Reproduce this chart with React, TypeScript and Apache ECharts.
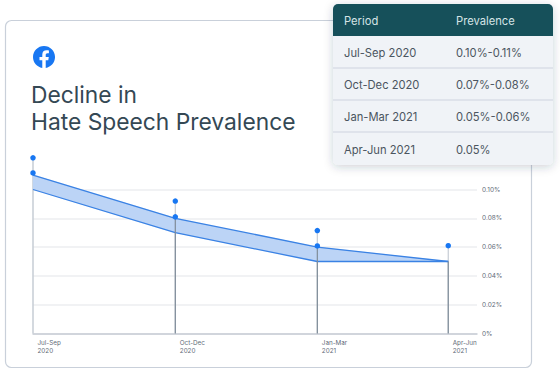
import React, { useEffect, useRef } from "react";
import * as echarts from "echarts";

const periods = ["Jul-Sep\n2020", "Oct-Dec\n2020", "Jan-Mar\n2021", "Apr-Jun\n2021"];
const xPos = [0, 1, 1.998, 2.918];
const upper = [0.11, 0.08, 0.06, 0.05];
const lower = [0.1, 0.07, 0.05, 0.05];
const pinsHigh = [0.122, 0.092, 0.0715, 0.061];
const pinsLow = [0.1115, 0.081, 0.0608];
const tableHeader = ["Period", "Prevalence"];
const tablePeriods = ["Jul-Sep 2020", "Oct-Dec 2020", "Jan-Mar 2021", "Apr-Jun 2021"];
const tableValues = ["0.10%-0.11%", "0.07%-0.08%", "0.05%-0.06%", "0.05%"];
const title = ["Decline in", "Hate Speech Prevalence"];

const FONT = "Inter";
const FB =
  "M24 12.073c0-6.627-5.373-12-12-12s-12 5.373-12 12c0 5.99 4.388 10.954 10.125 11.854v-8.385H7.078v-3.47h3.047V9.43c0-3.007 1.792-4.669 4.533-4.669 1.312 0 2.686.235 2.686.235v2.953H15.83c-1.491 0-1.956.925-1.956 1.874v2.25h3.328l-.532 3.47h-2.796v8.385C19.612 23.027 24 18.062 24 12.073z";
echarts.graphic.registerShape("fbLogo", echarts.graphic.extendPath(FB, {}));

export default function App() {
  const ref = useRef<HTMLDivElement>(null);
  useEffect(() => {
    const chart = echarts.init(ref.current!, undefined, { renderer: "svg" });
    const rowY = [36, 68, 100, 132, 165];
    const tableEls: any[] = [
      {
        type: "rect",
        shape: { x: 333, y: 4, width: 220, height: 161, r: 5 },
        style: { fill: "#f0f3f7", shadowBlur: 10, shadowColor: "rgba(40,50,70,0.22)", shadowOffsetY: 2 },
      },
      { type: "rect", shape: { x: 333, y: 4, width: 220, height: 32, r: [5, 5, 0, 0] }, style: { fill: "#16505a" } },
      { type: "text", style: { x: 344, y: 20.5, text: tableHeader[0], fill: "#d5e3e6", font: `11.2px ${FONT}`, verticalAlign: "middle" } },
      { type: "text", style: { x: 456, y: 20.5, text: tableHeader[1], fill: "#d5e3e6", font: `11.2px ${FONT}`, verticalAlign: "middle" } },
    ];
    tablePeriods.forEach((p, i) => {
      const cy = (rowY[i] + rowY[i + 1]) / 2 + 1;
      tableEls.push(
        { type: "text", style: { x: 344, y: cy, text: p, fill: "#4b5560", font: `11.2px ${FONT}`, verticalAlign: "middle" } },
        { type: "text", style: { x: 456, y: cy, text: tableValues[i], fill: "#4b5560", font: `11.2px ${FONT}`, verticalAlign: "middle" } }
      );
      if (i < 3)
        tableEls.push({
          type: "line",
          shape: { x1: 333, y1: rowY[i + 1], x2: 553, y2: rowY[i + 1] },
          style: { stroke: "#cdd4df", lineWidth: 1.2 },
        });
    });

    const stem = (color: string, width: number, tops: number[], xs: number[], z: number) => ({
      type: "custom" as const,
      coordinateSystem: "cartesian2d",
      silent: true,
      z,
      data: tops.map((t, i) => [xs[i], 0, t]),
      renderItem: (_: any, api: any) => {
        const a = api.coord([api.value(0), api.value(1)]);
        const b = api.coord([api.value(0), api.value(2)]);
        return { type: "line", shape: { x1: a[0], y1: a[1], x2: b[0], y2: b[1] }, style: { stroke: color, lineWidth: width } };
      },
    });

    const bandRows = xPos.slice(0, 3).map((x, i) => [x, upper[i], lower[i], xPos[i + 1], upper[i + 1], lower[i + 1]]);

    chart.setOption({
      animation: false,
      backgroundColor: "#ffffff",
      grid: { left: 33, right: 83, top: 189.5, bottom: 40.5 },
      xAxis: {
        type: "value",
        min: 0,
        max: 3.12,
        splitLine: { show: false },
        axisLine: { show: true, onZero: false, lineStyle: { color: "#c6ccd4", width: 1.5 } },
        axisTick: { show: false },
        axisLabel: {
          show: true,
          customValues: xPos,
          formatter: (v: number) => periods[xPos.indexOf(v)] ?? "",
          color: "#5f6b78",
          fontSize: 6.3,
          fontFamily: FONT,
          lineHeight: 8,
          align: "left",
          verticalAlign: "top",
          margin: 5,
          padding: [0, 0, 0, 4.5],
          hideOverlap: false,
        },
      },
      yAxis: {
        type: "value",
        position: "right",
        min: 0,
        max: 0.1,
        interval: 0.02,
        axisLine: { show: false },
        axisTick: { show: false },
        splitLine: { lineStyle: { color: "#eceef1", width: 1.5 } },
        axisLabel: {
          formatter: (v: number) => (v === 0 ? "0%" : v.toFixed(2) + "%"),
          color: "#5f6b78",
          fontSize: 6.5,
          fontFamily: FONT,
          margin: 5,
        },
      },
      series: [
        {
          type: "custom",
          coordinateSystem: "cartesian2d",
          silent: true,
          z: 2,
          data: bandRows,
          renderItem: (_: any, api: any) => ({
            type: "polygon",
            shape: {
              points: [
                api.coord([api.value(0), api.value(1)]),
                api.coord([api.value(3), api.value(4)]),
                api.coord([api.value(3), api.value(5)]),
                api.coord([api.value(0), api.value(2)]),
              ],
            },
            style: { fill: "#bcd4f6", stroke: "#bcd4f6", lineWidth: 0.3 },
          }),
        },
        {
          type: "line",
          symbol: "none",
          clip: false,
          z: 3,
          lineStyle: { color: "#3a82e4", width: 1.3 },
          data: lower.map((v, i) => [xPos[i], v]),
        },
        {
          type: "line",
          symbol: "none",
          clip: false,
          z: 3,
          lineStyle: { color: "#3a82e4", width: 1.3 },
          data: upper.map((v, i) => [xPos[i], v]),
        },
        stem("#c6ccd4", 1.5, [pinsHigh[0]], [xPos[0]], 1),
        stem("#c6ccd4", 1.2, pinsHigh.slice(1), xPos.slice(1), 1),
        stem("#7f8c99", 1.2, upper.slice(1), xPos.slice(1), 4),
        {
          type: "scatter",
          symbolSize: 5.5,
          z: 5,
          clip: false,
          itemStyle: { color: "#1877f2", opacity: 1 },
          data: [...pinsHigh.map((v, i) => [xPos[i], v]), ...pinsLow.map((v, i) => [xPos[i], v])],
        },
      ],
      graphic: {
        elements: [
          {
            type: "rect",
            z: -1,
            silent: true,
            shape: { x: 5.5, y: 20.5, width: 526, height: 347, r: 6 },
            style: { fill: "#ffffff", stroke: "#c9d0da", lineWidth: 1.2 },
          },
          { type: "fbLogo", x: 33, y: 46, scaleX: 22 / 24, scaleY: 22 / 24, style: { fill: "#1877f2" } },
          { type: "text", style: { x: 31, y: 94, text: title[0], fill: "#344854", font: `22.8px ${FONT}`, verticalAlign: "middle" } },
          { type: "text", style: { x: 31, y: 121, text: title[1], fill: "#344854", font: `22.8px ${FONT}`, verticalAlign: "middle" } },
          { type: "group", z: 20, children: tableEls },
        ],
      },
    });
    return () => chart.dispose();
  }, []);
  return <div ref={ref} style={{ position: "absolute", left: 0, top: 0, width: 560, height: 374 }} />;
}
